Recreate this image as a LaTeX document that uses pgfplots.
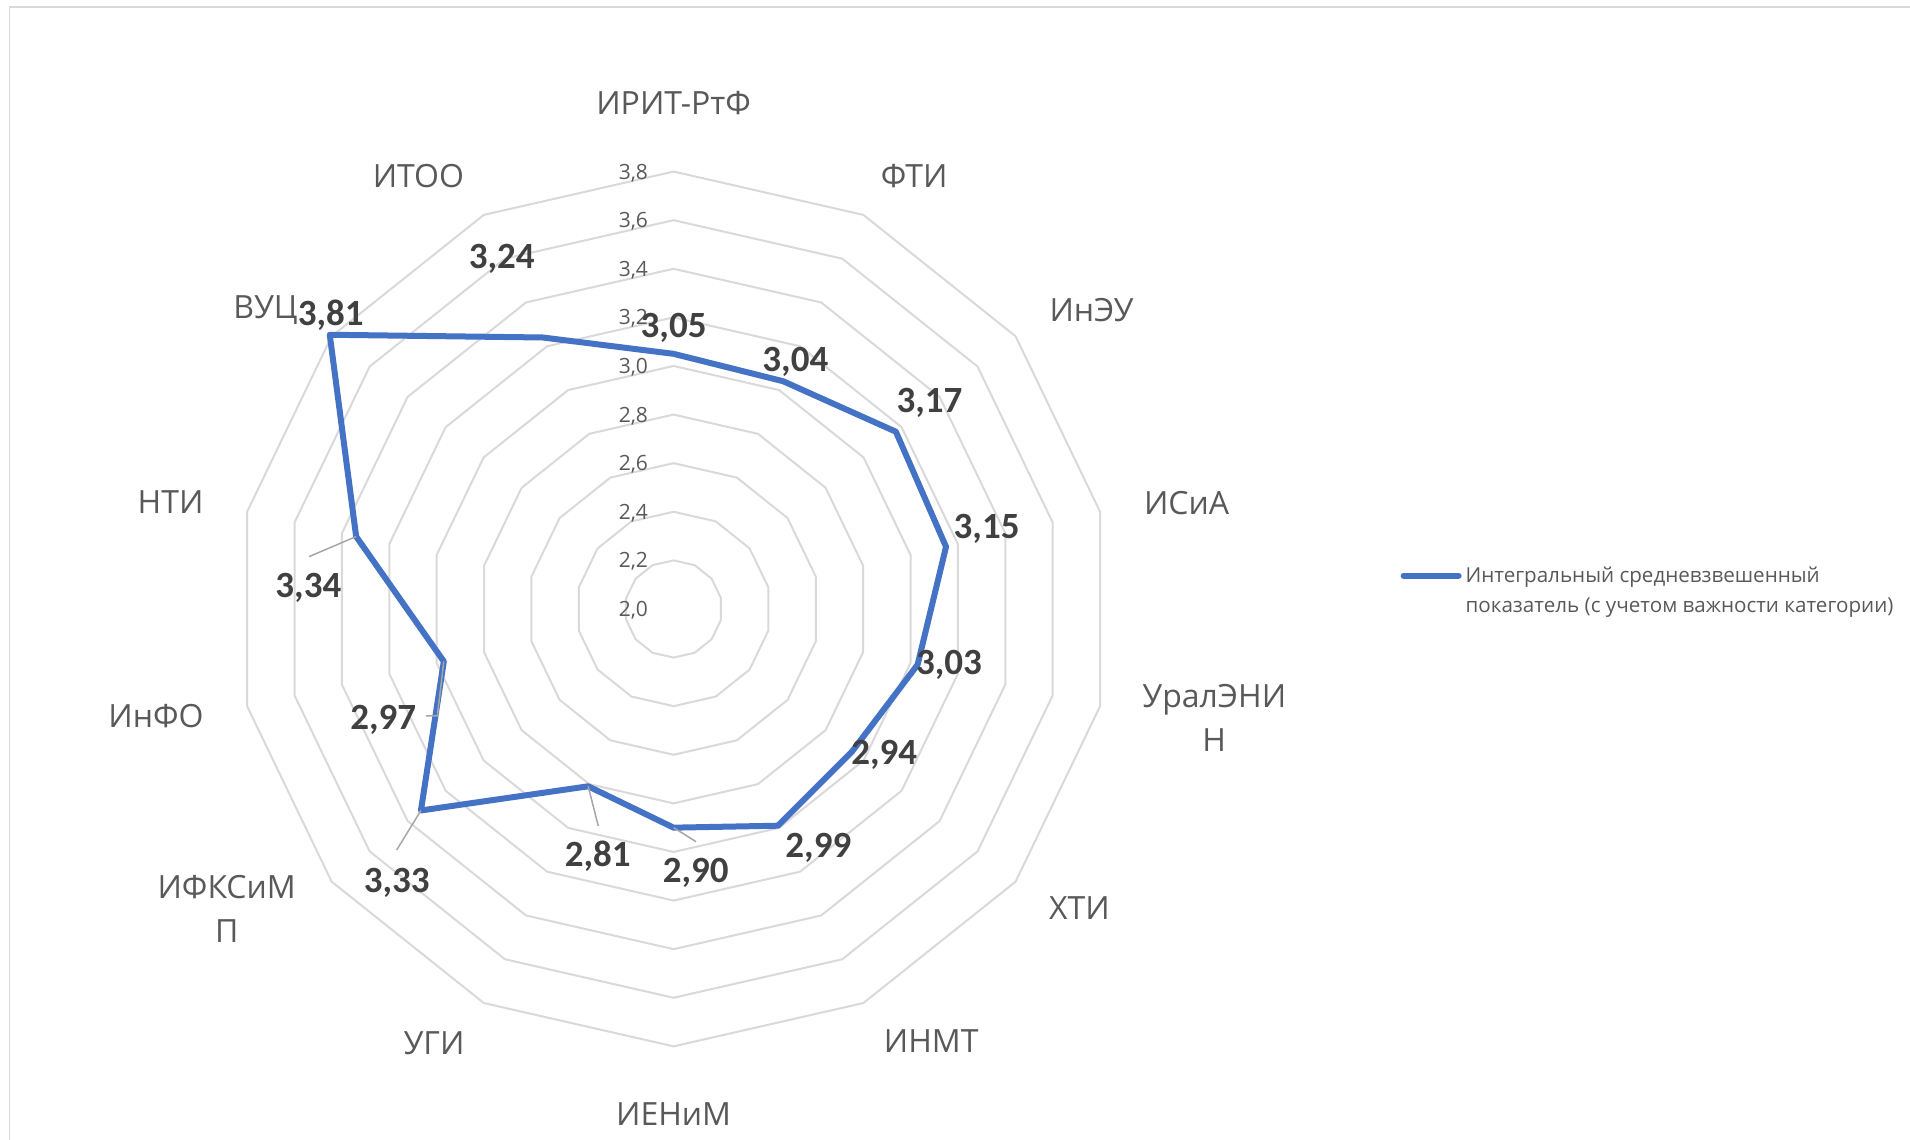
\documentclass[border=0pt]{standalone}
\usepackage{fontspec}
\setmainfont{Open Sans}
\newfontfamily\valfont{Carlito}
\usepackage{pgfplots}
\usepackage{pgfplotstable}
\pgfplotsset{compat=1.18}

\definecolor{serblue}{HTML}{4472C4}
\definecolor{gridgray}{HTML}{D9D9D9}
\definecolor{txtgray}{HTML}{595959}
\definecolor{valgray}{HTML}{404040}
\definecolor{leadgray}{HTML}{A6A6A6}

\tikzset{
    cat/.style={font=\fontsize{16}{22}\selectfont, text=txtgray, align=center},
    val/.style={font=\valfont\bfseries\fontsize{18.5}{20}\selectfont, text=valgray, text depth=0pt, inner sep=0pt},
    tck/.style={font=\fontsize{10.5}{12}\selectfont, text=txtgray, anchor=east, inner sep=0pt, text depth=0pt},
}

% i = category index (clockwise from top), v = value; last row closes the polygon
\pgfplotstableread{
i  v
0  3.05
1  3.04
2  3.17
3  3.15
4  3.03
5  2.94
6  2.99
7  2.90
8  2.81
9  3.33
10 2.97
11 3.34
12 3.81
13 3.24
14 3.05
}\radar

\begin{document}
\begin{tikzpicture}
\begin{axis}[
    x=121.5pt, y=121.5pt,
    xmin=-2.772, xmax=5.088, ymin=-2.185, ymax=2.506,
    hide axis, clip=false,
    legend style={at={(axis cs:2.99,0.075)}, anchor=west, draw=none, fill=none,
        font=\fontsize{10.3}{15}\selectfont\color{txtgray},
        nodes={align=left}, inner sep=0pt},
    legend image code/.code={
        \path[draw=none] (0pt,-7.5pt) -- (0pt,7.5pt);
        \draw[#1, line cap=round] (0pt,7.5pt) -- (27.5pt,7.5pt);},
]
% chart frame
\draw[gridgray, line width=0.75pt] (-2.733,-2.185) -- (-2.733,2.477) -- (5.088,2.477);

% polygon grid, 2.2 ... 3.8
\pgfplotsinvokeforeach{1,...,9}{
  \addplot[gridgray, line width=1pt, domain=0:14, samples=15, forget plot]
    ({0.2*#1*sin(x*360/14)}, {0.2*#1*cos(x*360/14)});
}

% radial tick labels
\node[tck] at (-0.104,0.0) {2,0};
\node[tck] at (-0.104,0.2) {2,2};
\node[tck] at (-0.104,0.4) {2,4};
\node[tck] at (-0.104,0.6) {2,6};
\node[tck] at (-0.104,0.8) {2,8};
\node[tck] at (-0.104,1.0) {3,0};
\node[tck] at (-0.104,1.2) {3,2};
\node[tck] at (-0.104,1.4) {3,4};
\node[tck] at (-0.104,1.6) {3,6};
\node[tck] at (-0.104,1.8) {3,8};

% series
\addplot[serblue, line width=3pt, line join=round] table[
    x expr={(\thisrow{v}-2)*sin(\thisrow{i}*360/14)},
    y expr={(\thisrow{v}-2)*cos(\thisrow{i}*360/14)}] {\radar};
\addlegendentry{Интегральный средневзвешенный\\показатель (с учетом важности категории)}

% leader lines
\draw[leadgray, line width=0.75pt] (-1.3064,0.2981) -- (-1.500,0.2155);
\draw[leadgray, line width=0.75pt] (-0.9457,-0.2158) -- (-0.9724,-0.4403) -- (-1.019,-0.4403);
\draw[leadgray, line width=0.75pt] (-1.0398,-0.8293) -- (-1.1395,-0.9918);
\draw[leadgray, line width=0.75pt] (-0.3515,-0.7298) -- (-0.3099,-0.893);
\draw[leadgray, line width=0.75pt] (0,-0.9) -- (0.0922,-0.9576);

% category labels
\node[cat] at (0,2.081) {ИРИТ-РтФ};
\node[cat] at (0.99,1.78) {ФТИ};
\node[cat] at (1.72,1.23) {ИнЭУ};
\node[cat] at (2.111,0.435) {ИСиА};
\node[cat] at (2.225,-0.4465) {УралЭНИ\\Н};
\node[cat] at (1.67,-1.23) {ХТИ};
\node[cat] at (1.06,-1.78) {ИНМТ};
\node[cat] at (0,-2.08) {ИЕНиМ};
\node[cat] at (-0.986,-1.787) {УГИ};
\node[cat] at (-1.839,-1.235) {ИФКСиМ\\П};
\node[cat] at (-2.13,-0.44) {ИнФО};
\node[cat] at (-2.07,0.44) {НТИ};
\node[cat] at (-1.68,1.23) {ВУЦ};
\node[cat] at (-1.05,1.78) {ИТОО};

% value labels
\node[val] at (0,1.169) {3,05};
\node[val] at (0.501,1.028) {3,04};
\node[val] at (1.053,0.857) {3,17};
\node[val] at (1.288,0.341) {3,15};
\node[val] at (1.133,-0.221) {3,03};
\node[val] at (0.867,-0.591) {2,94};
\node[val] at (0.5956,-0.9726) {2,99};
\node[val] at (0.091,-1.077) {2,90};
\node[val] at (-0.312,-1.008) {2,81};
\node[val] at (-1.1395,-1.118) {3,33};
\node[val] at (-1.195,-0.446) {2,97};
\node[val] at (-1.503,0.0988) {3,34};
\node[val] at (-1.411,1.220) {3,81};
\node[val] at (-0.707,1.449) {3,24};
\end{axis}
\pgfresetboundingbox
\path[use as bounding box] (current axis.south west) rectangle (current axis.north east);
\end{tikzpicture}
\end{document}
